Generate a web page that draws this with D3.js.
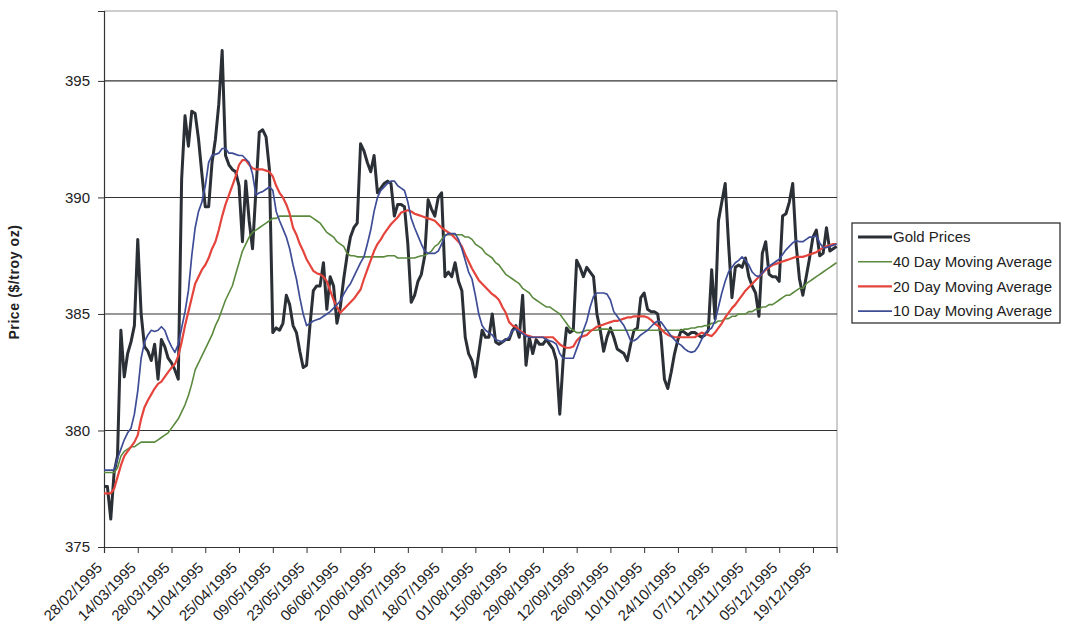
<!DOCTYPE html>
<html>
<head>
<meta charset="utf-8">
<script src="https://cdn.jsdelivr.net/npm/d3@7"></script>
<style>
  html, body { margin: 0; padding: 0; background: #ffffff; }
  svg { display: block; }
  text { font-family: Arial, "Liberation Sans", sans-serif; fill: #222; }
</style>
</head>
<body>
<svg id="chart" width="1065" height="629"></svg>
<script>
// Daily London gold fix, 28/02/1995 - 28/12/1995 (trading days)
const tickLabels = ["28/02/1995","14/03/1995","28/03/1995","11/04/1995","25/04/1995","09/05/1995",
  "23/05/1995","06/06/1995","20/06/1995","04/07/1995","18/07/1995","01/08/1995","15/08/1995",
  "29/08/1995","12/09/1995","26/09/1995","10/10/1995","24/10/1995","07/11/1995","21/11/1995",
  "05/12/1995","19/12/1995"];

const seriesNames = ["Gold Prices","40 Day Moving Average","20 Day Moving Average","10 Day Moving Average"];

const goldPrices = [
  377.6,377.6,376.2,378.2,378.9,384.3,382.3,383.3,383.8,384.5,
  388.2,385.0,383.6,383.4,383.0,383.7,382.2,383.9,383.6,383.1,
  382.9,382.6,382.2,390.8,393.5,392.2,393.7,393.6,392.5,391.0,
  389.6,389.6,391.5,392.5,394.0,396.3,391.8,391.4,391.2,391.1,
  390.5,388.1,390.7,389.0,387.8,390.3,392.8,392.9,392.6,391.2,
  384.2,384.4,384.3,384.6,385.8,385.4,384.5,384.2,383.4,382.7,
  382.8,384.5,386.0,386.2,386.2,387.2,385.2,386.6,386.2,384.6,
  385.3,386.5,387.5,388.3,388.7,388.9,392.3,392.0,391.5,391.1,
  391.8,390.2,390.4,390.6,390.7,390.6,389.2,389.7,389.7,389.6,
  388.0,385.5,385.8,386.4,386.7,387.5,389.9,389.5,389.2,390.0,
  390.2,386.6,386.8,386.6,387.2,386.4,386.0,384.0,383.3,383.0,
  382.3,383.3,384.3,384.0,384.0,385.0,383.8,383.7,383.8,383.9,
  383.9,384.3,384.5,384.0,385.8,382.8,384.0,383.3,383.9,383.7,
  383.7,383.9,383.7,383.5,383.0,380.7,383.0,384.4,384.2,384.3,
  387.3,387.0,386.6,387.0,386.8,386.6,385.0,384.3,383.4,384.0,
  384.4,384.0,383.5,383.4,383.3,383.0,383.7,384.3,384.4,385.7,
  385.9,385.2,385.1,385.1,385.0,384.0,382.2,381.8,382.5,383.3,
  383.9,384.3,384.2,384.1,384.2,384.2,384.1,384.0,384.1,384.3,
  386.9,384.8,389.0,389.8,390.6,388.0,385.7,387.0,387.1,387.0,
  387.4,386.6,386.2,385.9,384.9,387.6,388.1,386.7,386.6,386.6,
  386.4,389.2,389.3,389.8,390.6,388.0,386.5,385.8,386.6,387.4,
  388.3,388.6,387.5,387.6,388.7,387.7,387.8,387.9
];

const ma40 = [
  378.2,378.2,378.2,378.2,378.4,378.9,379.1,379.2,379.3,379.3,
  379.4,379.5,379.5,379.5,379.5,379.5,379.6,379.7,379.8,379.9,
  380.1,380.3,380.5,380.8,381.1,381.5,382.0,382.6,382.9,383.2,
  383.5,383.8,384.1,384.5,384.8,385.2,385.6,385.9,386.2,386.7,
  387.2,387.7,388.0,388.3,388.5,388.6,388.7,388.8,388.9,389.0,
  389.1,389.1,389.2,389.2,389.2,389.2,389.2,389.2,389.2,389.2,
  389.2,389.2,389.1,389.0,388.9,388.7,388.5,388.4,388.3,388.1,
  388.0,387.9,387.6,387.5,387.5,387.45,387.45,387.45,387.45,387.45,
  387.45,387.45,387.45,387.45,387.5,387.5,387.5,387.4,387.4,387.4,
  387.4,387.4,387.4,387.45,387.5,387.5,387.6,387.7,387.9,388.0,
  388.2,388.4,388.4,388.4,388.4,388.4,388.4,388.3,388.3,388.2,
  388.0,387.9,387.8,387.6,387.5,387.4,387.2,387.1,386.9,386.7,
  386.6,386.5,386.4,386.3,386.1,386.0,385.9,385.7,385.6,385.5,
  385.4,385.3,385.3,385.2,385.1,385.0,384.8,384.6,384.4,384.3,
  384.2,384.2,384.25,384.3,384.3,384.3,384.3,384.35,384.35,384.35,
  384.3,384.3,384.3,384.3,384.3,384.3,384.3,384.3,384.3,384.3,
  384.3,384.3,384.3,384.3,384.3,384.3,384.3,384.3,384.3,384.3,
  384.3,384.3,384.35,384.35,384.4,384.4,384.45,384.45,384.5,384.5,
  384.6,384.6,384.7,384.7,384.8,384.8,384.9,384.9,385.0,385.0,
  385.0,385.1,385.1,385.2,385.2,385.3,385.3,385.4,385.4,385.5,
  385.6,385.7,385.8,385.8,385.9,386.0,386.1,386.1,386.3,386.4,
  386.5,386.6,386.7,386.8,386.9,387.0,387.1,387.2
];

const ma20 = [
  377.3,377.3,377.3,377.5,378.0,378.5,378.9,379.1,379.3,379.5,
  379.8,380.5,381.0,381.3,381.55,381.8,382.0,382.1,382.3,382.5,
  382.7,382.85,383.2,383.8,384.5,385.1,385.7,386.3,386.6,386.9,
  387.1,387.4,387.8,388.1,388.6,389.2,389.7,390.1,390.5,390.9,
  391.4,391.6,391.6,391.4,391.25,391.2,391.2,391.2,391.15,391.1,
  390.9,390.5,390.2,390.0,389.7,389.3,388.7,388.4,388.0,387.7,
  387.35,387.1,386.85,386.75,386.7,386.6,386.4,386.0,385.6,385.3,
  385.05,385.2,385.35,385.5,385.65,385.85,386.05,386.5,386.9,387.3,
  387.7,388.0,388.2,388.45,388.65,388.85,389.0,389.15,389.35,389.4,
  389.45,389.4,389.3,389.25,389.2,389.15,389.1,389.05,389.0,388.85,
  388.7,388.6,388.5,388.4,388.25,388.1,387.9,387.55,387.25,386.95,
  386.7,386.45,386.3,386.15,386.0,385.85,385.75,385.6,385.3,385.05,
  384.65,384.5,384.45,384.3,384.2,384.1,384.05,384.0,384.0,384.0,
  384.0,384.0,384.0,384.0,383.85,383.7,383.6,383.55,383.55,383.6,
  383.85,384.0,384.05,384.1,384.25,384.35,384.45,384.5,384.55,384.6,
  384.65,384.7,384.7,384.75,384.8,384.85,384.85,384.9,384.9,384.9,
  384.9,384.85,384.75,384.6,384.5,384.35,384.2,384.1,384.05,384.0,
  384.0,384.0,384.0,384.0,384.0,384.0,384.1,384.2,384.15,384.1,
  384.05,384.2,384.4,384.6,384.85,385.05,385.25,385.4,385.6,385.8,
  386.0,386.15,386.3,386.45,386.6,386.75,386.9,387.0,387.1,387.15,
  387.2,387.25,387.3,387.35,387.4,387.45,387.45,387.45,387.5,387.55,
  387.6,387.65,387.75,387.85,387.9,387.95,388.0,388.0
];

const ma10 = [
  378.3,378.3,378.3,378.3,378.8,379.2,379.6,379.9,380.1,380.7,
  381.7,383.1,383.8,384.1,384.3,384.25,384.3,384.45,384.3,383.9,
  383.6,383.35,383.7,384.4,385.1,386.0,387.5,388.7,389.4,389.8,
  390.5,391.5,391.8,391.85,391.9,392.1,392.1,391.9,391.9,391.85,
  391.8,391.8,391.65,391.5,391.0,390.1,390.2,390.25,390.35,390.45,
  390.3,389.4,389.0,388.65,388.3,387.8,387.1,386.5,385.7,385.0,
  384.5,384.6,384.7,384.75,384.8,384.9,385.0,385.1,385.25,385.4,
  385.55,385.85,386.1,386.3,386.6,386.9,387.2,387.45,388.0,388.6,
  389.4,390.0,390.3,390.45,390.6,390.7,390.7,390.5,390.4,390.3,
  389.8,389.1,388.7,388.35,388.0,387.7,387.6,387.6,387.6,387.7,
  388.0,388.35,388.45,388.45,388.45,388.2,387.8,387.3,386.8,386.5,
  385.8,385.0,384.5,384.3,384.2,384.1,383.9,383.85,383.8,383.9,
  384.0,384.3,384.35,384.25,384.15,384.05,384.0,384.0,384.0,384.0,
  384.0,383.9,383.85,383.8,383.7,383.3,383.1,383.1,383.1,383.1,
  383.5,383.9,384.3,384.7,385.3,385.75,385.9,385.9,385.9,385.85,
  385.6,385.1,384.9,384.7,384.5,384.2,383.85,383.85,383.95,384.1,
  384.2,384.3,384.45,384.6,384.7,384.65,384.45,384.25,384.05,383.9,
  383.75,383.65,383.5,383.4,383.35,383.4,383.6,383.9,384.15,384.3,
  384.4,384.7,385.3,385.9,386.4,386.8,387.0,387.2,387.3,387.45,
  387.3,387.1,386.8,386.65,386.6,386.75,386.95,387.05,387.15,387.25,
  387.35,387.55,387.75,387.9,388.05,388.15,388.1,388.1,388.2,388.3,
  388.3,388.35,388.05,387.85,387.85,387.9,387.95,388.0
];

const yTicks = [375, 380, 385, 390, 395];
const gridValues = [380, 385, 390, 395];

const seriesStyle = [
  { values: goldPrices, color: "#2b2f36", width: 3.0 },
  { values: ma40,       color: "#5b8a3f", width: 1.6 },
  { values: ma20,       color: "#e4443c", width: 2.2 },
  { values: ma10,       color: "#3e4d96", width: 1.7 }
];

const svg = d3.select("#chart");
const L = 104, R = 837, T = 11, B = 547;

const x = d3.scaleLinear().domain([0, goldPrices.length - 1]).range([L, R - 0.4]);
const y = d3.scaleLinear().domain([375, 398]).range([B, T]);

svg.append("rect").attr("width", 1065).attr("height", 629).attr("fill", "#fff");

// plot frame (top and right edges are light)
svg.append("path")
  .attr("d", `M${L},${T}H${R}V${B}`)
  .attr("fill", "none").attr("stroke", "#9a9a9a").attr("stroke-width", 1);

// horizontal gridlines
svg.append("g").selectAll("line").data(gridValues).join("line")
  .attr("x1", L).attr("x2", R)
  .attr("y1", d => y(d)).attr("y2", d => y(d))
  .attr("stroke", "#333").attr("stroke-width", 1.1);

// y axis
const yAxis = svg.append("g").attr("transform", `translate(${L},0)`)
  .call(d3.axisLeft(y).tickValues(yTicks).tickSize(6).tickPadding(8).tickFormat(d3.format("d")));
yAxis.select(".domain").attr("stroke", "#333").attr("stroke-width", 1.2);
yAxis.selectAll(".tick line").attr("stroke", "#333");
yAxis.selectAll(".tick text").attr("font-size", 15).attr("fill", "#222")
  .style("font-family", "Arial, 'Liberation Sans', sans-serif");

// x axis: every 10th trading day
const xAxis = svg.append("g").attr("transform", `translate(0,${B})`)
  .call(d3.axisBottom(x).tickValues(d3.range(0, tickLabels.length * 10, 10))
    .tickSize(6).tickFormat((d, i) => tickLabels[i]));
xAxis.select(".domain").attr("stroke", "#333").attr("stroke-width", 1.2);
xAxis.selectAll(".tick line").attr("stroke", "#333");
xAxis.selectAll(".tick text")
  .attr("font-size", 15).attr("fill", "#222")
  .style("font-family", "Arial, 'Liberation Sans', sans-serif")
  .attr("text-anchor", "end")
  .attr("x", 0).attr("y", 0).attr("dy", "0.35em")
  .attr("transform", "translate(-5,18) rotate(-45)");

// y axis title
svg.append("text")
  .attr("transform", "translate(19,282) rotate(-90)")
  .attr("text-anchor", "middle")
  .attr("font-size", 14).attr("font-weight", "bold")
  .attr("letter-spacing", 0.6)
  .text("Price ($/troy oz)");

// series lines
const line = d3.line().x((d, i) => x(i)).y(d => y(d));
const lines = svg.append("g");
seriesStyle.forEach(s => {
  lines.append("path")
    .datum(s.values)
    .attr("d", line)
    .attr("fill", "none")
    .attr("stroke", s.color)
    .attr("stroke-width", s.width)
    .attr("stroke-linejoin", "round");
});

// legend
const lg = svg.append("g").attr("transform", "translate(852,223)");
lg.append("rect").attr("width", 208).attr("height", 100)
  .attr("fill", "#fff").attr("stroke", "#333").attr("stroke-width", 1.3);
seriesNames.forEach((name, i) => {
  const yy = 14 + i * 24.7;
  lg.append("line").attr("x1", 6).attr("x2", 40).attr("y1", yy).attr("y2", yy)
    .attr("stroke", seriesStyle[i].color).attr("stroke-width", seriesStyle[i].width);
  lg.append("text").attr("x", 41).attr("y", yy).attr("dy", "0.35em")
    .attr("font-size", 15).text(name);
});
</script>
</body>
</html>
